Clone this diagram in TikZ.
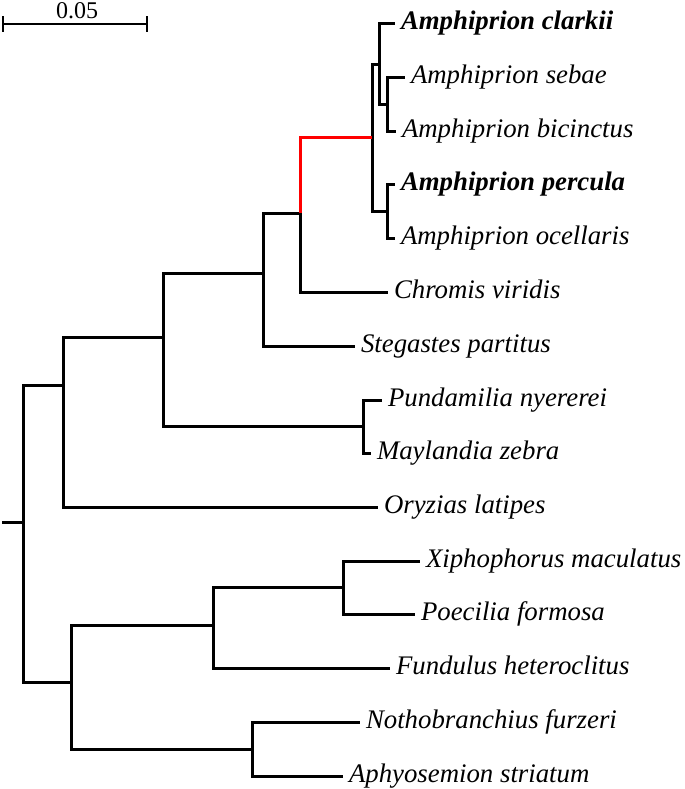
\documentclass[tikz,border=0pt]{standalone}
\usepackage{fontspec}
\setmainfont{Liberation Serif}
\usepackage{tikz}
\usetikzlibrary{calc}
\tikzset{mytaxon/.style={anchor=west, inner xsep=3pt, inner ysep=0pt, outer sep=0pt, text height=0.66em, text depth=0pt, font=\fontsize{13.4}{16}\selectfont\itshape}}
\tikzset{mytaxonBold/.style={mytaxon, font=\fontsize{13.4}{16}\selectfont\bfseries\itshape}}
\tikzset{mybranch/.style={draw, line width=1.5pt}}
\tikzset{mybranchRed/.style={mybranch, red}}
\tikzset{myscale/.style={draw, line width=1.1pt}}

\begin{document}
\begin{tikzpicture}[x=0.5pt, y=-0.5pt]
\useasboundingbox (0,0) rectangle (685,789);

% scale bar
\coordinate (sbL) at (3,24);
\coordinate (sbR) at (147,24);
\node[font=\fontsize{12}{14}\selectfont, inner sep=0pt] (sbLabel) at (77,11) {0.05};
\draw[myscale] (sbL) -- (sbR);
\draw[myscale] ($(sbL)+(0,-8)$) -- ($(sbL)+(0,8)$);
\draw[myscale] ($(sbR)+(0,-8)$) -- ($(sbR)+(0,8)$);

% taxa
\node[mytaxonBold] (clarkii) at (395,23) {Amphiprion clarkii};
\node[mytaxon] (sebae) at (405,77) {Amphiprion sebae};
\node[mytaxon] (bicinctus) at (396,131) {Amphiprion bicinctus};
\node[mytaxonBold] (percula) at (395,184) {Amphiprion percula};
\node[mytaxon] (ocellaris) at (395,238) {Amphiprion ocellaris};
\node[mytaxon] (chromis) at (388,292) {Chromis viridis};
\node[mytaxon] (stegastes) at (355,346) {Stegastes partitus};
\node[mytaxon] (pundamilia) at (382,400) {Pundamilia nyererei};
\node[mytaxon] (maylandia) at (371,453) {Maylandia zebra};
\node[mytaxon] (oryzias) at (378,507) {Oryzias latipes};
\node[mytaxon] (xiphophorus) at (420,561) {Xiphophorus maculatus};
\node[mytaxon] (poecilia) at (415,614) {Poecilia formosa};
\node[mytaxon] (fundulus) at (390,668) {Fundulus heteroclitus};
\node[mytaxon] (nothobranchius) at (360,722) {Nothobranchius furzeri};
\node[mytaxon] (aphyosemion) at (343,776) {Aphyosemion striatum};

% internal nodes
\coordinate (nSebae) at (387,104);
\coordinate (nClarkii) at (379,64);
\coordinate (nPercula) at (387,211);
\coordinate (nAmph) at (372,137);
\coordinate (nChromis) at (300,213);
\coordinate (nStegastes) at (263,273);
\coordinate (nCichlid) at (363,426);
\coordinate (nOvalent) at (163,337);
\coordinate (nOryzias) at (63,385);
\coordinate (nPoecilia) at (343,587);
\coordinate (nFundulus) at (213,625);
\coordinate (nNotho) at (252,749);
\coordinate (nCyprino) at (71,682);
\coordinate (nRoot) at (23,522);
\coordinate (rootStub) at (2,522);

% branches
\draw[mybranch] (nSebae) |- (sebae.west);
\draw[mybranch] (nSebae) |- (bicinctus.west);
\draw[mybranch] (nClarkii) |- (clarkii.west);
\draw[mybranch] (nClarkii) |- (nSebae);
\draw[mybranch] (nPercula) |- (percula.west);
\draw[mybranch] (nPercula) |- (ocellaris.west);
\draw[mybranch] (nAmph) |- (nClarkii);
\draw[mybranch] (nAmph) |- (nPercula);
\draw[mybranch] (nChromis) |- (chromis.west);
\draw[mybranch] (nStegastes) |- (nChromis);
\draw[mybranch] (nStegastes) |- (stegastes.west);
\draw[mybranch] (nCichlid) |- (pundamilia.west);
\draw[mybranch] (nCichlid) |- (maylandia.west);
\draw[mybranch] (nOvalent) |- (nStegastes);
\draw[mybranch] (nOvalent) |- (nCichlid);
\draw[mybranch] (nOryzias) |- (nOvalent);
\draw[mybranch] (nOryzias) |- (oryzias.west);
\draw[mybranch] (nPoecilia) |- (xiphophorus.west);
\draw[mybranch] (nPoecilia) |- (poecilia.west);
\draw[mybranch] (nFundulus) |- (nPoecilia);
\draw[mybranch] (nFundulus) |- (fundulus.west);
\draw[mybranch] (nNotho) |- (nothobranchius.west);
\draw[mybranch] (nNotho) |- (aphyosemion.west);
\draw[mybranch] (nCyprino) |- (nFundulus);
\draw[mybranch] (nCyprino) |- (nNotho);
\draw[mybranch] (nRoot) |- (nOryzias);
\draw[mybranch] (nRoot) |- (nCyprino);
\draw[mybranch] (rootStub) -- (nRoot);

% highlighted stem
\draw[mybranchRed] (nChromis) |- (nAmph);

\end{tikzpicture}
\end{document}
